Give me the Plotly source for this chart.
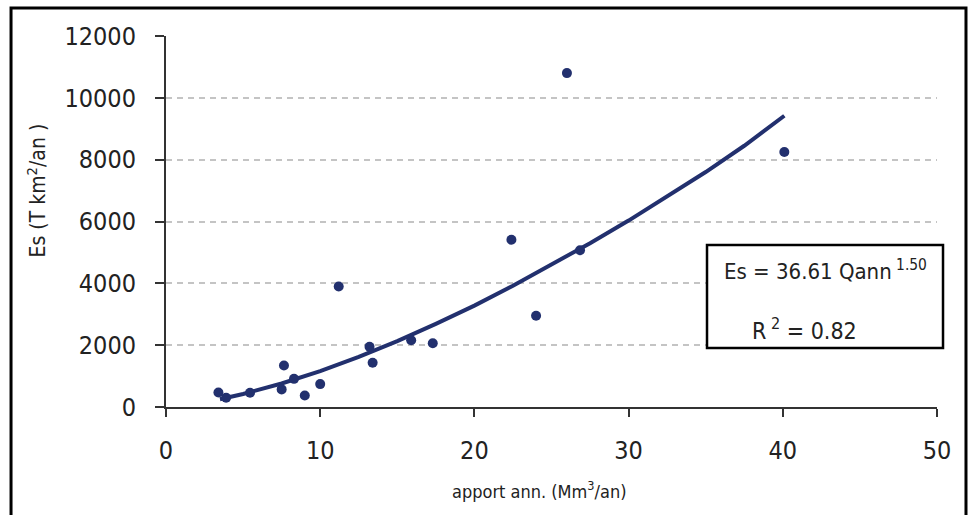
import plotly.graph_objects as go

# Observed points: annual inflow (Mm3/yr) vs specific sediment yield
q_obs = [3.4, 3.9, 5.45, 7.5, 7.65, 8.3, 9.0, 10.0, 11.2, 13.2, 13.4, 15.9, 17.3, 22.4, 24.0, 26.0, 26.85, 40.1]
es_obs = [470, 300, 460, 570, 1340, 910, 370, 740, 3900, 1950, 1430, 2160, 2060, 5410, 2950, 10800, 5070, 8250]

# Power trend line
q_trend = [3.5, 5, 7.5, 10, 12.5, 15, 17.5, 20, 22.5, 25, 27.5, 30, 32.5, 35, 37.5, 40.1]
es_trend = [250, 420, 760, 1160, 1620, 2130, 2690, 3280, 3920, 4600, 5300, 6030, 6800, 7600, 8450, 9420]

x_ticks = [0, 10, 20, 30, 40, 50]
y_ticks = [0, 2000, 4000, 6000, 8000, 10000, 12000]
y_tick_text = ["0", "2000", "4000", "6000", "8000", "10000", "12000"]

navy = "#22306E"
font_family = "DejaVu Sans Condensed"

fig = go.Figure()
fig.add_trace(go.Scatter(x=q_trend, y=es_trend, mode="lines",
                         line=dict(color=navy, width=4), showlegend=False, hoverinfo="skip"))
fig.add_trace(go.Scatter(x=q_obs, y=es_obs, mode="markers",
                         marker=dict(color=navy, size=10, symbol="circle"), showlegend=False))

fig.update_layout(
    width=968, height=515,
    margin=dict(l=166, r=31, t=36, b=108),
    paper_bgcolor="white", plot_bgcolor="white",
    font=dict(family=font_family, color="#222222"),
    xaxis=dict(range=[0, 50], tickvals=x_ticks, showgrid=False, zeroline=False,
               showline=True, linecolor="#333333", linewidth=2,
               ticks="outside", ticklen=8, tickwidth=2, tickcolor="#333333",
               tickfont=dict(size=25, family=font_family, color="#222222"),
               ticklabelstandoff=12),
    yaxis=dict(range=[0, 12000], tickvals=y_ticks, ticktext=y_tick_text, showgrid=True,
               gridcolor="#C4C4C4", griddash="6px,5px", gridwidth=2, zeroline=False,
               showline=True, linecolor="#333333", linewidth=2,
               ticks="outside", ticklen=9, tickwidth=2, tickcolor="#333333",
               tickfont=dict(size=25, family=font_family, color="#222222"),
               ticklabelstandoff=14),
    shapes=[
        dict(type="rect", xref="paper", yref="paper",
             x0=-0.201, x1=1.0376, y0=-0.32, y1=1.0755,
             line=dict(color="black", width=3), fillcolor="rgba(0,0,0,0)", layer="below"),
        dict(type="rect", xref="paper", yref="paper",
             x0=0.7017, x1=1.0078, y0=0.159, y1=0.4367,
             line=dict(color="black", width=2.5), fillcolor="white", layer="above"),
    ],
    annotations=[
        dict(text="apport ann. (Mm<sup>3</sup>/an)", xref="paper", yref="paper",
             x=0.485, y=-0.225, xanchor="center", yanchor="middle", showarrow=False,
             font=dict(size=18, family=font_family)),
        dict(text="Es (T km<sup>2</sup>/an )", xref="paper", yref="paper",
             x=-0.168, y=0.585, xanchor="center", yanchor="middle", showarrow=False,
             textangle=-90, font=dict(size=21, family=font_family)),
        dict(text="Es = 36.61 Qann<sup> 1.50</sup>", xref="paper", yref="paper",
             x=0.855, y=0.37, xanchor="center", yanchor="middle", showarrow=False,
             font=dict(size=22, family=font_family)),
        dict(text="R<sup> 2</sup> = 0.82", xref="paper", yref="paper",
             x=0.758, y=0.21, xanchor="left", yanchor="middle", showarrow=False,
             font=dict(size=23, family=font_family)),
    ],
)

fig.write_html("out.html")
